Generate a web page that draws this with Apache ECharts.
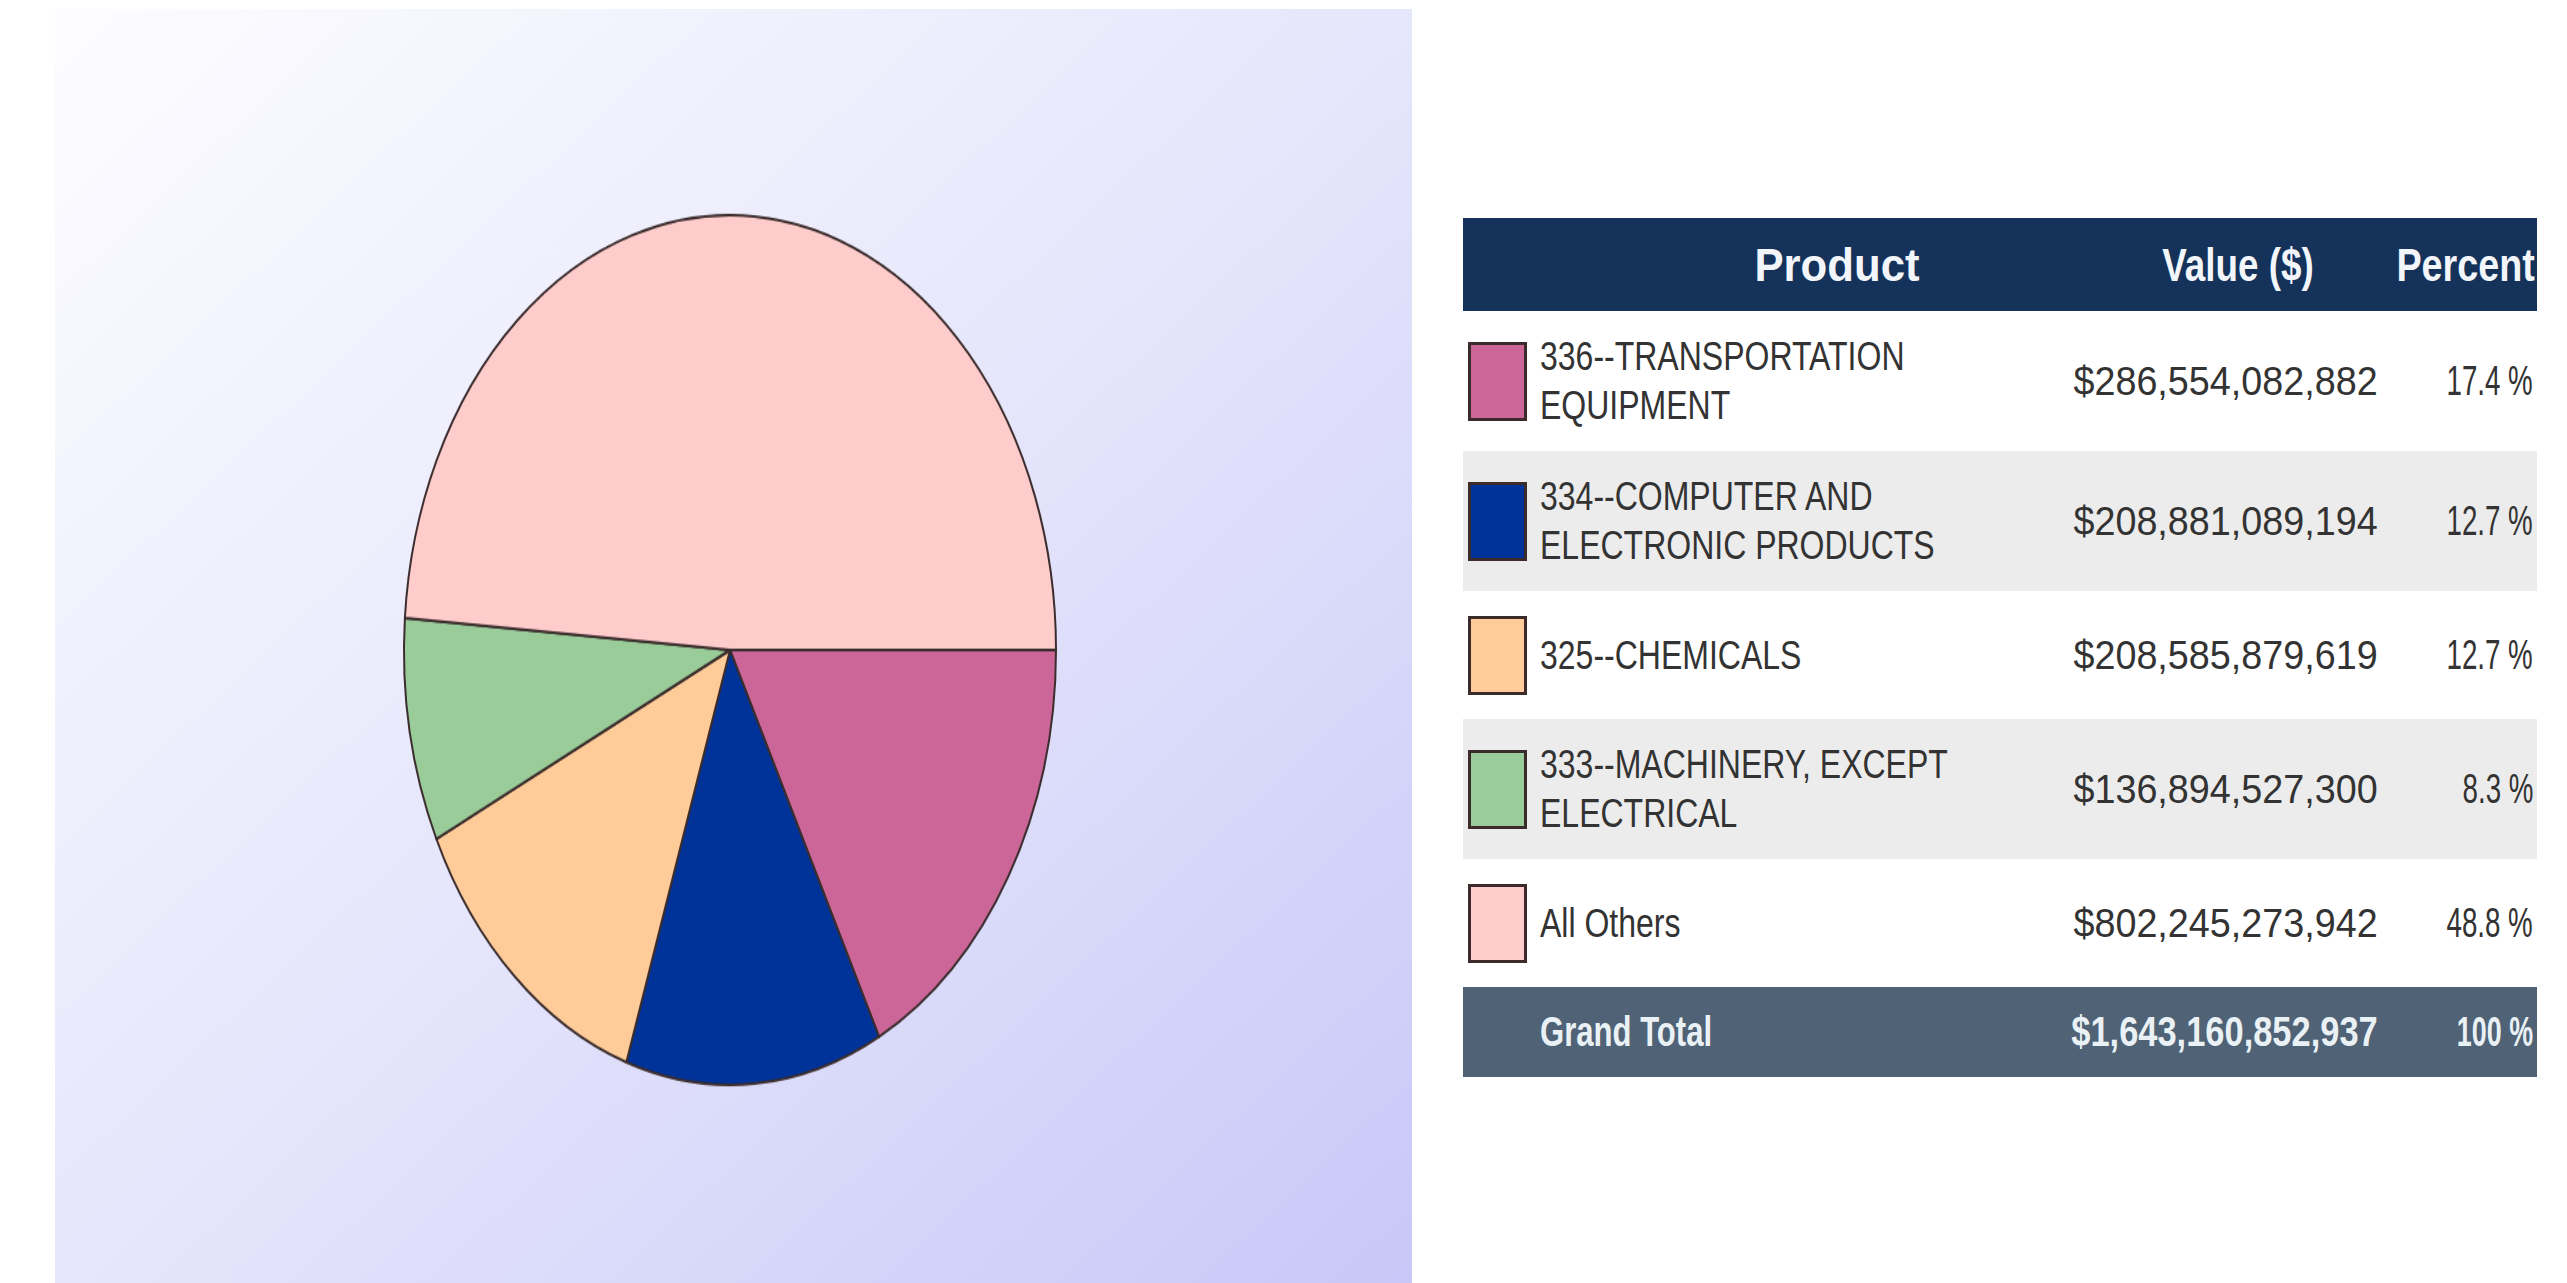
<!DOCTYPE html>
<html>
<head>
    <meta charset="utf-8">
    <title>Top Products - Pie</title>
    <script src="https://cdn.jsdelivr.net/npm/echarts@6/dist/echarts.min.js"></script>
</head>

<style>
    html, body {
        margin: 0;
        padding: 0;
        width: 2567px;
        height: 1283px;
        background: #ffffff;
        overflow: hidden;
        font-family: "Liberation Sans", Arial, sans-serif;
    }
    #panel {
        position: absolute;
        left: 55px;
        top: 9px;
        width: 1357px;
        height: 1274px;
        background: linear-gradient(to bottom right, #fdfdff 0%, #e6e6fc 50%, #c8c8f8 100%);
    }
    #pie {
        position: absolute;
        left: 380px;
        top: 300px;
        width: 700px;
        height: 700px;
        transform: scaleY(1.334);
        transform-origin: 50% 50%;
    }
    #tbl {
        position: absolute;
        left: 1463px;
        top: 218px;
        width: 1074px;
    }
    .row { position: relative; width: 1074px; }
    .cell { position: absolute; top: 50%; white-space: nowrap; }
    .sq { display: inline-block; }
    .hd { background: #14325a; height: 93px; color: #f2f6fa; font-weight: bold; font-size: 46px; }
    .gt { background: #4f6276; height: 90px; color: #eaf1f5; font-weight: bold; font-size: 42px; }
    .swatch {
        position: absolute; left: 5px; top: 50%;
        width: 53px; height: 73px; margin-top: -39px;
        border: 3px solid #3b2b2b;
    }
    .prod { left: 77px; font-size: 40px; line-height: 49px; color: #333; white-space: pre-line; }
    .val { right: 159px; font-size: 41px; color: #333; }
    .pct { right: 4px; font-size: 42px; color: #333; }
</style>

<body>

<div id="panel"></div>
<div id="pie"></div>
<div id="tbl"></div>

<script>
    // 数据
    var products = [
        '336--TRANSPORTATION\nEQUIPMENT',
        '334--COMPUTER AND\nELECTRONIC PRODUCTS',
        '325--CHEMICALS',
        '333--MACHINERY, EXCEPT\nELECTRICAL',
        'All Others'
    ];
    var values = [286554082882, 208881089194, 208585879619, 136894527300, 802245273942];
    var colors = ['#cc6699', '#003399', '#ffcc99', '#99cc99', '#ffcccc'];
    var headers = ['Product', 'Value ($)', 'Percent'];
    var totalLabel = 'Grand Total';
</script>

<script>
    var total = values.reduce(function (a, b) { return a + b; }, 0);

    function money(v) { return '$' + v.toLocaleString('en-US'); }
    function pct(v) { return (v / total * 100).toFixed(1) + ' %'; }
    function squash(text, s, origin) {
        return '<span class="sq" style="transform:scaleX(' + s + ');transform-origin:' + origin + ' center">' + text + '</span>';
    }

    // 表格
    var html = '';
    html += '<div class="row hd">'
        + '<div class="cell" style="left:374px;transform:translate(-50%,-50%)">' + squash(headers[0], 0.95, 'center') + '</div>'
        + '<div class="cell" style="left:775px;transform:translate(-50%,-50%)">' + squash(headers[1], 0.8, 'center') + '</div>'
        + '<div class="cell" style="right:2px;transform:translateY(-50%)">' + squash(headers[2], 0.82, 'right') + '</div>'
        + '</div>';

    for (var i = 0; i < products.length; i++) {
        var twoLine = products[i].indexOf('\n') >= 0;
        var bg = (i % 2 === 1) ? '#ececec' : '#ffffff';
        html += '<div class="row" style="height:' + (twoLine ? 140 : 128) + 'px;background:' + bg + '">'
            + '<div class="swatch" style="background:' + colors[i] + '"></div>'
            + '<div class="cell prod" style="transform:translateY(-50%)">' + squash(products[i], 0.8, 'left') + '</div>'
            + '<div class="cell val" style="transform:translateY(-50%)">' + squash(money(values[i]), 0.92, 'right') + '</div>'
            + '<div class="cell pct" style="transform:translateY(-50%)">' + squash(pct(values[i]), 0.66, 'right') + '</div>'
            + '</div>';
    }

    html += '<div class="row gt">'
        + '<div class="cell" style="left:77px;transform:translateY(-50%)">' + squash(totalLabel, 0.74, 'left') + '</div>'
        + '<div class="cell" style="right:159px;transform:translateY(-50%)">' + squash(money(total), 0.82, 'right') + '</div>'
        + '<div class="cell" style="right:4px;transform:translateY(-50%)">' + squash('100 %', 0.64, 'right') + '</div>'
        + '</div>';

    document.getElementById('tbl').innerHTML = html;

    // 饼图
    var chart = echarts.init(document.getElementById('pie'));
    var pieData = [];
    for (var j = 0; j < products.length; j++) {
        pieData.push({ name: products[j], value: values[j], itemStyle: { color: colors[j] } });
    }
    chart.setOption({
        animation: false,
        series: [{
            type: 'pie',
            center: ['50%', '50%'],
            radius: 326,
            startAngle: 0,
            clockwise: true,
            avoidLabelOverlap: false,
            label: { show: false },
            labelLine: { show: false },
            emphasis: { disabled: true },
            itemStyle: { borderColor: '#3b2d2d', borderWidth: 2 },
            data: pieData
        }]
    });
</script>

</body>
</html>
